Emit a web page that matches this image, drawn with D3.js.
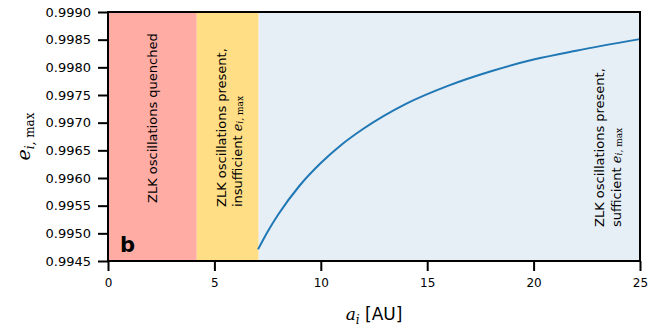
<!DOCTYPE html>
<html>
<head>
<meta charset="utf-8">
<script src="https://cdn.jsdelivr.net/npm/d3@7"></script>
<style>
  body { margin: 0; background: #fff; }
  svg { display: block; font-family: "DejaVu Sans", sans-serif; }
</style>
</head>
<body>
<div id="chart"></div>
<script>
// values
const semiMajor = [7.05, 7.5, 8, 9, 10, 11, 12, 14, 16, 18, 20, 22, 25];
const eMax = [0.99471, 0.99503, 0.99534, 0.99586, 0.99627, 0.99661, 0.99689, 0.99734, 0.99767, 0.99793, 0.99814, 0.99830, 0.99851];

// regime boundaries on the a_i axis
const regionStarts = [0, 4.17, 7.08];
const regionEnds = [4.17, 7.08, 25];
const regionColors = ["#ffaca5", "#ffde85", "#e6eef6"];

const xTicks = [0, 5, 10, 15, 20, 25];
const yTicks = [0.9945, 0.9950, 0.9955, 0.9960, 0.9965, 0.9970, 0.9975, 0.9980, 0.9985, 0.9990];

const width = 662, height = 330;
const margin = {top: 12, right: 22, bottom: 69, left: 108};
const innerWidth = width - margin.left - margin.right;
const innerHeight = height - margin.top - margin.bottom;

const svg = d3.select("#chart")
  .append("svg")
  .attr("width", width)
  .attr("height", height);

const innerChart = svg.append("g")
  .attr("transform", `translate(${margin.left},${margin.top})`);

const xScale = d3.scaleLinear().domain([0, 25]).range([0, innerWidth]);
const yScale = d3.scaleLinear().domain([0.9945, 0.9990]).range([innerHeight, 0]);

// shaded regimes
innerChart.selectAll("rect.region")
  .data(regionStarts)
  .join("rect")
    .attr("class", "region")
    .attr("x", d => xScale(d))
    .attr("width", (d, i) => xScale(regionEnds[i]) - xScale(d))
    .attr("y", 0)
    .attr("height", innerHeight)
    .attr("fill", (d, i) => regionColors[i]);

// the curve
const lineGenerator = d3.line()
  .x((d, i) => xScale(semiMajor[i]))
  .y(d => yScale(d))
  .curve(d3.curveMonotoneX);

innerChart.append("path")
  .attr("d", lineGenerator(eMax))
  .attr("fill", "none")
  .attr("stroke", "#1f77b4")
  .attr("stroke-width", 2);

// axes
const xAxis = d3.axisBottom(xScale).tickValues(xTicks).tickSize(10).tickPadding(7).tickFormat(d3.format("d"));
const yAxis = d3.axisLeft(yScale).tickValues(yTicks).tickSize(10).tickPadding(7).tickFormat(d3.format(".4f"));

const gx = innerChart.append("g")
  .attr("transform", `translate(0,${innerHeight})`)
  .call(xAxis);
const gy = innerChart.append("g").call(yAxis);

[gx, gy].forEach(g => {
  g.select(".domain").remove();
  g.selectAll(".tick line").attr("stroke", "#000").attr("stroke-width", 2);
  g.selectAll(".tick text").attr("fill", "#000").attr("font-family", "DejaVu Sans");
});
gx.selectAll(".tick text").attr("font-size", 12);
gy.selectAll(".tick text").attr("font-size", 13);

// frame
innerChart.append("rect")
  .attr("width", innerWidth)
  .attr("height", innerHeight)
  .attr("fill", "none")
  .attr("stroke", "#000")
  .attr("stroke-width", 2);

// region labels (rotated)
function vLabel(x, y, parts) {
  const t = innerChart.append("text")
    .attr("transform", `translate(${x},${y}) rotate(-90)`)
    .attr("dominant-baseline", "central")
    .attr("font-size", 13)
    .attr("fill", "#000");
  parts.forEach(p => {
    t.append("tspan")
      .text(p.t)
      .attr("font-family", p.serif ? "DejaVu Serif" : "DejaVu Sans")
      .attr("font-style", p.italic ? "italic" : "normal")
      .attr("font-size", p.size || 13)
      .attr("baseline-shift", p.sub ? "-3" : null);
  });
  return t;
}

const sub = [
  {t: "e", serif: true, italic: true},
  {t: "i,", serif: true, italic: true, size: 9, sub: true},
  {t: " max", serif: true, size: 9, sub: true}
];

vLabel(152 - margin.left, 203 - margin.top, [{t: "ZLK oscillations quenched"}]);
vLabel(221 - margin.left, 207 - margin.top, [{t: "ZLK oscillations present,"}]);
vLabel(237 - margin.left, 207 - margin.top, [{t: "insufficient "}].concat(sub));
vLabel(599 - margin.left, 227 - margin.top, [{t: "ZLK oscillations present,"}]);
vLabel(616 - margin.left, 227 - margin.top, [{t: "sufficient "}].concat(sub));

// panel letter
innerChart.append("text")
  .attr("x", 120 - margin.left)
  .attr("y", 252 - margin.top)
  .attr("font-size", 21)
  .attr("font-weight", "bold")
  .text("b");

// axis titles
const xl = svg.append("text")
  .attr("x", margin.left + innerWidth / 2)
  .attr("y", 320)
  .attr("text-anchor", "middle")
  .attr("font-size", 17);
xl.append("tspan").text("a").attr("font-family", "DejaVu Serif").attr("font-style", "italic");
xl.append("tspan").text("i").attr("font-family", "DejaVu Serif").attr("font-style", "italic")
  .attr("font-size", 12).attr("baseline-shift", "-4");
xl.append("tspan").text(" [AU]");

const yl = svg.append("text")
  .attr("transform", `translate(30,${margin.top + innerHeight / 2}) rotate(-90)`)
  .attr("text-anchor", "middle")
  .attr("font-size", 19);
yl.append("tspan").text("e").attr("font-family", "DejaVu Serif").attr("font-style", "italic");
yl.append("tspan").text("i,").attr("font-family", "DejaVu Serif").attr("font-style", "italic")
  .attr("font-size", 12).attr("baseline-shift", "-4");
yl.append("tspan").text(" max").attr("font-family", "DejaVu Serif")
  .attr("font-size", 12).attr("baseline-shift", "-4");
</script>
</body>
</html>
